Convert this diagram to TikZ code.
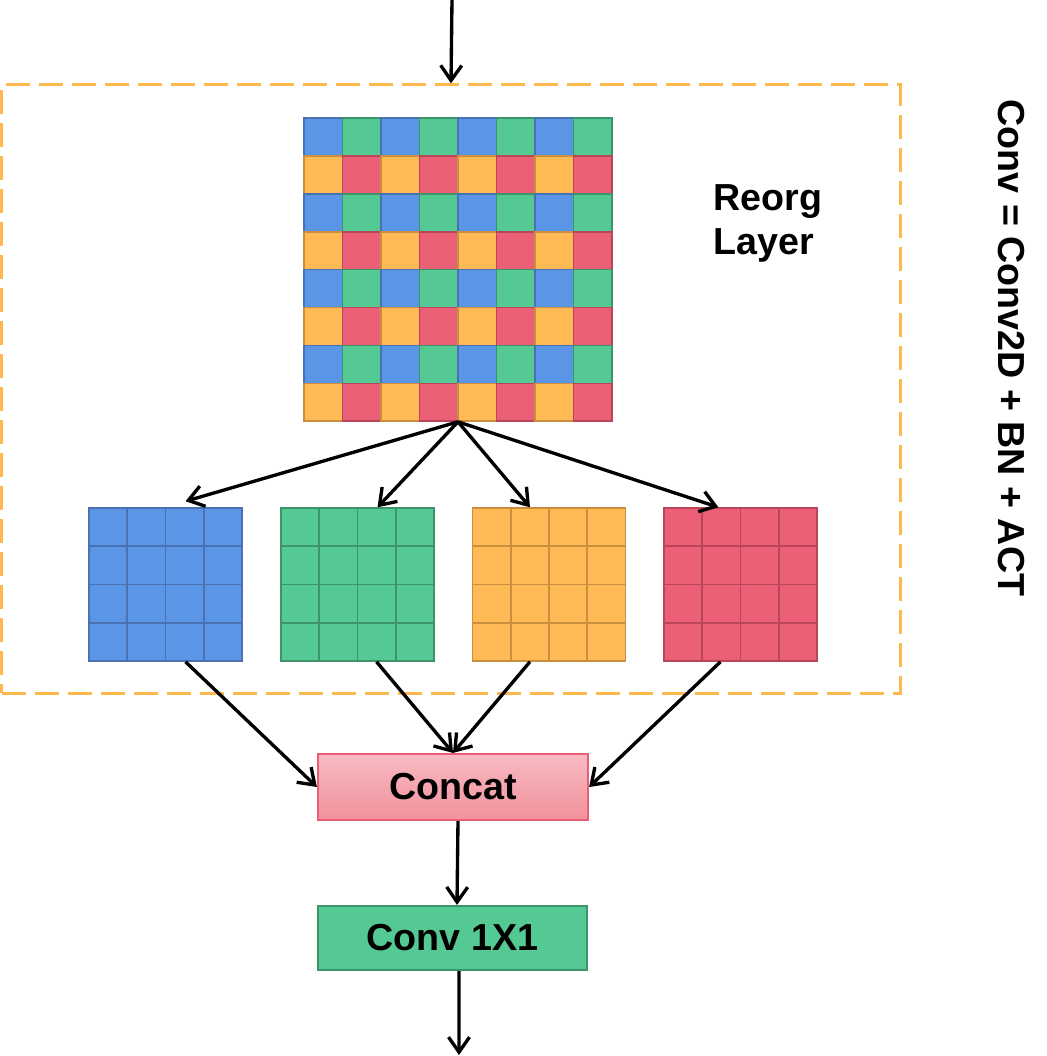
\documentclass[tikz,border=0pt]{standalone}
\usepackage{fontspec}
\setmainfont{Liberation Sans}
\usetikzlibrary{arrows.meta}
\definecolor{fillblue}{HTML}{5B95E5}
\definecolor{lineblue}{HTML}{4A72B3}
\definecolor{fillgreen}{HTML}{55C993}
\definecolor{linegreen}{HTML}{3E9469}
\definecolor{fillorange}{HTML}{FFB955}
\definecolor{lineorange}{HTML}{C98F3F}
\definecolor{fillred}{HTML}{EC6077}
\definecolor{linered}{HTML}{B84658}
\definecolor{dashorange}{HTML}{FFB84D}
\definecolor{pinktop}{HTML}{F8BAC2}
\definecolor{pinkbot}{HTML}{F2919C}
\definecolor{pinkline}{HTML}{EB5E78}
\tikzset{
  cellline/.style={line width=0.45pt},
  arr/.style={-{Straight Barb[length=1.5mm,width=2.1mm]},line width=0.95pt},
  lbl/.style={font=\fontsize{10.7}{12.5}\selectfont\bfseries},
}
\begin{document}
\begin{tikzpicture}[x=0.01cm,y=-0.01cm]
\useasboundingbox (0,0) rectangle (1047,1056);
% dashed reorg frame
\node[draw=dashorange,line width=0.85pt,dash pattern=on 2.4mm off 0.9mm,
  minimum width=8.98cm,minimum height=6.08cm,inner sep=0] (frame) at (451,389) {};
% 8x8 input
\node[inner sep=0,minimum width=3.08cm,minimum height=3.03cm] (reorg) at (458,269.5) {};
\foreach \i in {0,2,4,6}
  \foreach \j in {0,2,4,6} {
    \draw[cellline,fill=fillblue,draw=lineblue] (304+\i*38.5,118+\j*37.9) rectangle ++(38.5,37.9);
    \draw[cellline,fill=fillgreen,draw=linegreen] (342.5+\i*38.5,118+\j*37.9) rectangle ++(38.5,37.9);
    \draw[cellline,fill=fillorange,draw=lineorange] (304+\i*38.5,155.9+\j*37.9) rectangle ++(38.5,37.9);
    \draw[cellline,fill=fillred,draw=linered] (342.5+\i*38.5,155.9+\j*37.9) rectangle ++(38.5,37.9);
  }
\node[lbl,anchor=west,align=left,inner sep=0] (title) at (713,223) {Reorg\\Layer};
% 4x4 outputs
\foreach \nm/\cx in {blue/165.5,green/357.5,orange/549,red/740.5} {
  \node[inner sep=0,minimum size=1.53cm] (\nm) at (\cx,584.5) {};
  \foreach \i in {0,...,3}
    \foreach \j in {0,...,3}
      \draw[cellline,fill=fill\nm,draw=line\nm] (\cx-76.5+\i*38.25,508+\j*38.25) rectangle ++(38.25,38.25);
}
\node[lbl,draw=pinkline,line width=0.6pt,top color=pinktop,bottom color=pinkbot,
  minimum width=2.7cm,minimum height=0.66cm] (concat) at (453,787) {Concat};
\node[lbl,draw=linegreen,line width=0.6pt,fill=fillgreen,
  minimum width=2.69cm,minimum height=0.64cm] (conv) at (452.5,938) {Conv 1X1};
\node[lbl,rotate=-90] (note) at (1011,348) {Conv = Conv2D + BN + ACT};
% connectors
\coordinate (in) at (452,0);
\coordinate (out) at (459,1055);
\draw[arr] (in) -- (frame.north);
\draw[arr] (reorg.south) -- ([xshift=0.2cm,yshift=0.06cm]blue.north);
\draw[arr] (reorg.south) -- ([xshift=0.2cm]green.north);
\draw[arr] (reorg.south) -- ([xshift=-0.19cm]orange.north);
\draw[arr] (reorg.south) -- ([xshift=-0.22cm]red.north);
\draw[arr] ([xshift=0.2cm]blue.south) -- (concat.west);
\draw[arr] ([xshift=0.19cm]green.south) -- (concat.north);
\draw[arr] ([xshift=-0.19cm]orange.south) -- (concat.north);
\draw[arr] ([xshift=-0.2cm]red.south) -- (concat.east);
\draw[arr] ([xshift=0.05cm]concat.south) -- ([xshift=0.045cm]conv.north);
\draw[arr] ([xshift=0.065cm]conv.south) -- (out);
\end{tikzpicture}
\end{document}
